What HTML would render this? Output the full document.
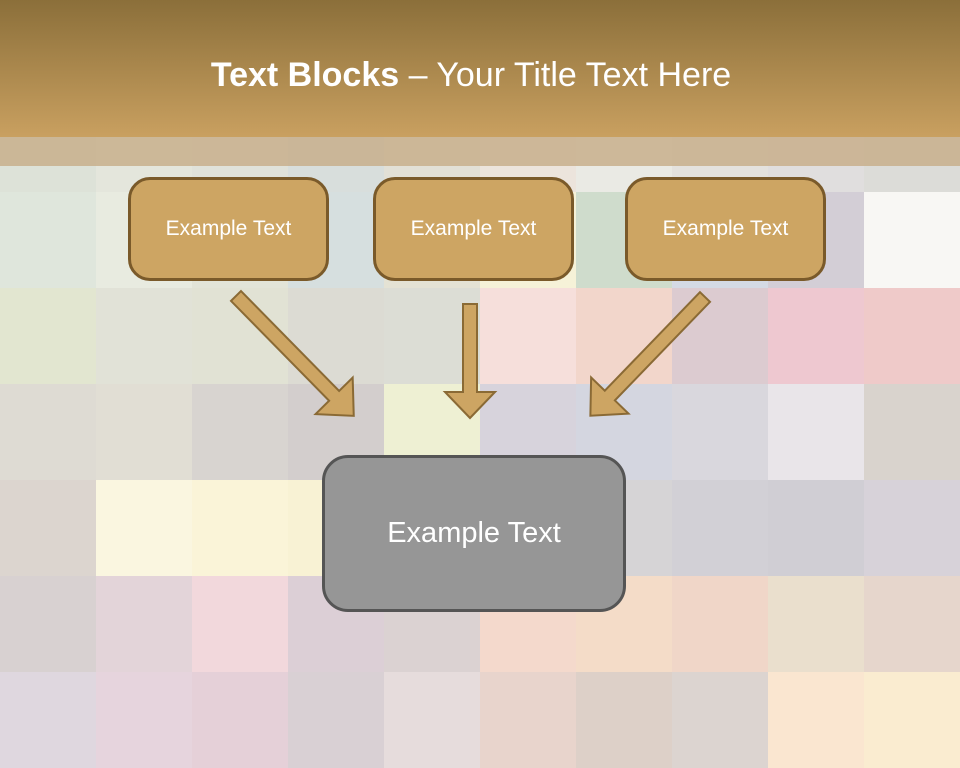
<!DOCTYPE html>
<html><head><meta charset="utf-8"><style>
body{margin:0;width:960px;height:720px;overflow:hidden;position:relative;font-family:"Liberation Sans",sans-serif;background:#ddd}
.g{position:absolute;width:96px;height:96px}
.hdr{position:absolute;left:0;top:0;width:960px;height:137px;background:linear-gradient(#8b6f3a,#c9a060)}
.strip{position:absolute;left:0;top:137px;width:960px;height:29px;background:rgba(200,175,140,0.85)}
.title{position:absolute;left:0;top:53px;width:942px;text-align:center;color:#fff;font-size:34px;line-height:44px}
.box{position:absolute;box-sizing:border-box;background:#cda563;border:3px solid #7a5a2a;border-radius:22px;color:#fff;font-size:21px;display:flex;align-items:center;justify-content:center}
</style></head><body>
<div id="grid"></div>
<script>
var c=[
["#dde2d8","#e4e6dc","#e0e2da","#d8dedc","#e2e0d6","#ece4dc","#eaeae4","#e4e2de","#e0dede","#dcdcd8"],
["#dfe6dc","#e8ebe0","#e2e4d8","#d6dfdf","#e4e2d4","#f6f2d8","#cfdccc","#d4dae4","#d3ced6","#f8f7f4"],
["#e2e6d0","#e1e2d7","#e1e2d4","#dcdbd3","#dcddd5","#f6dfdb","#f2d6cb","#dccbd0","#eec8d0","#efcac9"],
["#dedbd3","#e1ded4","#d8d4d0","#d3cecd","#eef0d3","#d7d3dc","#d4d6e0","#d9d7dd","#e9e5e9","#d9d3cd"],
["#dcd5cf","#faf6e0","#faf4d8","#f8f2d4","#d8d4d4","#d5d3d3","#d6d4d6","#d2d0d6","#d0ced4","#d7d2d9"],
["#d8d1d1","#e3d4d9","#f2d8dc","#dccfd6","#dbd2d2","#f4d9cc","#f4dcc8","#f0d6c8","#eadfcd","#e6d6cc"],
["#dfd7df","#e6d4dd","#e5d0d8","#d9d0d4","#e6dcdc","#e8d4cc","#ddd0c8","#dcd4d0","#fae6d0","#faecd0"]];
var h="";for(var r=0;r<7;r++)for(var k=0;k<10;k++)h+='<div class="g" style="left:'+k*96+'px;top:'+(96+r*96)+'px;background:'+c[r][k]+'"></div>';
document.getElementById("grid").innerHTML=h;
</script>
<div class="hdr"></div>
<div class="strip"></div>
<div class="title"><b>Text Blocks</b> – Your Title Text Here</div>
<svg style="position:absolute;left:0;top:0" width="960" height="720">
<g fill="#cda563" stroke="#8a6a35" stroke-width="2">
<polygon transform="translate(236,296) rotate(45.5)" points="0,-7 140,-7 140,-26 168,0 140,26 140,7 0,7"/>
<polygon transform="translate(470,304) rotate(90)" points="0,-7 88,-7 88,-25 114,0 88,25 88,7 0,7"/>
<polygon transform="translate(705,297) rotate(134)" points="0,-7 137,-7 137,-26 165,0 137,26 137,7 0,7"/>
</g></svg>
<div class="box" style="left:128px;top:177px;width:201px;height:104px">Example Text</div>
<div class="box" style="left:373px;top:177px;width:201px;height:104px">Example Text</div>
<div class="box" style="left:625px;top:177px;width:201px;height:104px">Example Text</div>
<div class="box" style="left:322px;top:455px;width:304px;height:157px;background:#969696;border-color:#555;font-size:29px;border-radius:26px">Example Text</div>
</body></html>
